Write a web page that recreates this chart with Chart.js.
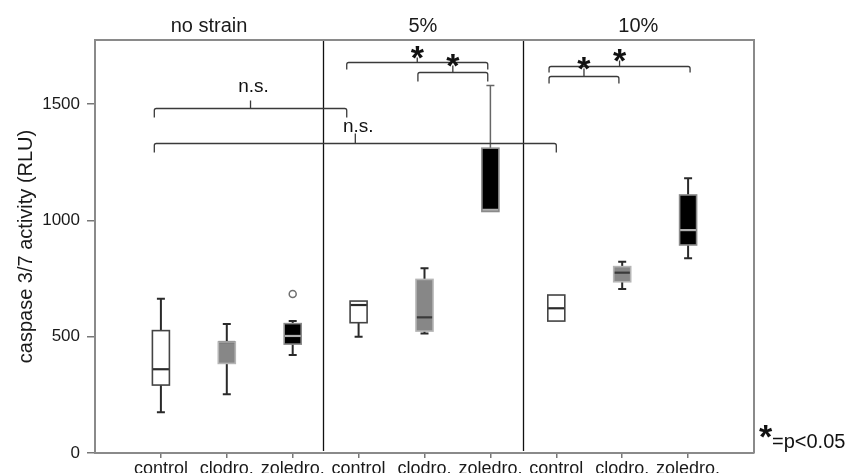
<!DOCTYPE html>
<html><head><meta charset="utf-8">
<script src="https://cdn.jsdelivr.net/npm/chart.js@4.4.0/dist/chart.umd.min.js"></script>
<style>html,body{margin:0;padding:0;background:#fff;}canvas{display:block;}</style>
</head><body>
<canvas id="c" width="846" height="473"></canvas>
<script>
// ---- data ----
const categories = ['control','clodro.','zoledro.','control','clodro.','zoledro.','control','clodro.','zoledro.'];
const groups = ['no strain','5%','10%'];
const whiskerLow  = [175, 252, 421,  500, 514, 1038,  567, 705,  837];
const q1          = [292, 385, 468,  560, 524, 1038,  567, 736,  894];
const medians     = [360, 477, 503,  636, 583, 1045,  622, 775,  958];
const q3          = [526, 477, 556,  653, 746, 1310,  679, 801, 1109];
const whiskerHigh = [663, 554, 567,  653, 794, 1579,  679, 822, 1181];
const outlierCat  = [2];
const outlierVal  = [683];
const yTicks = [0, 500, 1000, 1500];
const groupBounds = [-1, 2.46, 5.49, 9];
const brackets = [
  {from:-0.1, to:2.82, level:1483, drop:9, rise:8,  label:'n.s.', gap:9},
  {from:-0.1, to:6.0,  level:1332, drop:9, rise:10, label:'n.s.', gap:2},
  {from:2.82, to:4.96, level:1680, drop:7, rise:5,  label:'*'},
  {from:3.9,  to:4.96, level:1638, drop:9, rise:7,  label:'*'},
  {from:5.89, to:8.03, level:1663, drop:6, rise:6,  label:'*'},
  {from:5.89, to:6.95, level:1620, drop:7, rise:8,  label:'*'}
];

const FONT = "'Liberation Sans', Arial, sans-serif";
const fills   = ['#ffffff', '#878787', '#000000'];
const borders = ['#444444', '#b5b5b5', '#8a8a8a'];
const medCol  = ['#2a2a2a', '#3a3a3a', '#b0b0b0'];

const boxPlugin = {
  id: 'boxes',
  beforeDatasetsDraw(chart) {
    const {ctx, scales:{x, y}, chartArea:a} = chart;
    ctx.save();
    ctx.strokeStyle = '#111'; ctx.lineWidth = 1.3;
    for (let i = 1; i < groupBounds.length - 1; i++) {
      const px = Math.round(x.getPixelForValue(groupBounds[i])) + 0.5;
      ctx.beginPath(); ctx.moveTo(px, a.top); ctx.lineTo(px, a.bottom - 2); ctx.stroke();
    }
    const bw = 17, cw = 8;
    categories.forEach((c, i) => {
      const cx = x.getPixelForValue(i);
      const k = i % 3;
      const yl = y.getPixelForValue(whiskerLow[i]), yh = y.getPixelForValue(whiskerHigh[i]);
      const y1 = y.getPixelForValue(q1[i]), y3 = y.getPixelForValue(q3[i]);
      const ym = y.getPixelForValue(medians[i]);
      ctx.strokeStyle = (i === 5) ? '#666' : '#2a2a2a';
      ctx.lineWidth = (i === 5) ? 1.5 : 2;
      if (yh < y3 - 0.5) {
        ctx.beginPath(); ctx.moveTo(cx, y3); ctx.lineTo(cx, yh);
        ctx.moveTo(cx - cw/2, yh); ctx.lineTo(cx + cw/2, yh); ctx.stroke();
      }
      if (yl > y1 + 0.5) {
        ctx.beginPath(); ctx.moveTo(cx, y1); ctx.lineTo(cx, yl);
        ctx.moveTo(cx - cw/2, yl); ctx.lineTo(cx + cw/2, yl); ctx.stroke();
      }
      ctx.fillStyle = fills[k];
      ctx.fillRect(cx - bw/2, y3, bw, y1 - y3);
      ctx.strokeStyle = medCol[k]; ctx.lineWidth = 2.2;
      ctx.beginPath(); ctx.moveTo(cx - bw/2, ym); ctx.lineTo(cx + bw/2, ym); ctx.stroke();
      ctx.strokeStyle = borders[k]; ctx.lineWidth = 1.6;
      ctx.strokeRect(cx - bw/2, y3, bw, y1 - y3);
    });
    ctx.restore();
  },
  afterDraw(chart) {
    const {ctx, scales:{x, y}, chartArea:a} = chart;
    ctx.save();
    ctx.strokeStyle = '#8a8a8a'; ctx.lineWidth = 2;
    ctx.beginPath(); ctx.moveTo(a.left, a.top); ctx.lineTo(a.right, a.top); ctx.lineTo(a.right, a.bottom); ctx.stroke();
    ctx.fillStyle = '#1a1a1a'; ctx.textAlign = 'center'; ctx.textBaseline = 'alphabetic';
    ctx.font = `20px ${FONT}`;
    groups.forEach((g, i) => {
      const l = x.getPixelForValue(groupBounds[i]), r = x.getPixelForValue(groupBounds[i+1]);
      ctx.fillText(g, (l + r) / 2, 32);
    });
    ctx.strokeStyle = '#3a3a3a'; ctx.lineWidth = 1.3;
    brackets.forEach(b => {
      const x1 = x.getPixelForValue(b.from), x2 = x.getPixelForValue(b.to);
      const py = Math.round(y.getPixelForValue(b.level)) + 0.5;
      const xm = (x1 + x2) / 2;
      ctx.beginPath();
      ctx.moveTo(x1, py + b.drop);
      ctx.lineTo(x1, py + 2); ctx.quadraticCurveTo(x1, py, x1 + 2, py);
      ctx.lineTo(x2 - 2, py); ctx.quadraticCurveTo(x2, py, x2, py + 2);
      ctx.lineTo(x2, py + b.drop);
      ctx.moveTo(xm, py); ctx.lineTo(xm, py - b.rise);
      ctx.stroke();
      const top = py - b.rise;
      ctx.fillStyle = '#111';
      if (b.label === '*') {
        ctx.font = `bold 34px ${FONT}`;
        ctx.fillText('*', xm, top - 8 + 19);
      } else {
        ctx.font = `19px ${FONT}`;
        ctx.fillText(b.label, xm + 3, top - b.gap);
      }
    });
    ctx.textAlign = 'left';
    ctx.font = `bold 34px ${FONT}`;
    ctx.fillText('*', 759, 448);
    ctx.font = `20px ${FONT}`;
    ctx.fillText('=p<0.05', 772, 448);
    ctx.restore();
  }
};

new Chart(document.getElementById('c'), {
  type: 'scatter',
  data: {
    datasets: [{
      data: outlierCat.map((c, i) => ({x: c, y: outlierVal[i]})),
      pointRadius: 3.5, pointBackgroundColor: '#fff', pointBorderColor: '#707070', pointBorderWidth: 1.5
    }]
  },
  options: {
    responsive: false, animation: false,
    layout: {padding: {left: 0, right: 92, top: 40, bottom: 0}},
    plugins: {legend: {display: false}, tooltip: {enabled: false}},
    scales: {
      x: {
        type: 'linear', min: -1, max: 9,
        afterBuildTicks: s => { s.ticks = categories.map((_, i) => ({value: i})); },
        afterFit: s => { s.height = 20; },
        ticks: {callback: v => categories[v] ?? '', font: {family: FONT, size: 18}, color: '#1a1a1a', padding: 0, autoSkip: false, maxRotation: 0},
        grid: {drawOnChartArea: false, drawTicks: true, tickLength: 5, color: '#777', lineWidth: 1.5},
        border: {display: true, color: '#8a8a8a', width: 2}
      },
      y: {
        min: 0, max: 1775,
        afterBuildTicks: s => { s.ticks = yTicks.map(v => ({value: v})); },
        afterFit: s => { s.width = 95; },
        ticks: {callback: v => String(v), font: {family: FONT, size: 17}, color: '#1a1a1a', padding: 7},
        grid: {drawOnChartArea: false, drawTicks: true, tickLength: 8, color: '#777', lineWidth: 1.5},
        border: {display: true, color: '#8a8a8a', width: 2},
        title: {display: true, text: 'caspase 3/7 activity (RLU)', font: {family: FONT, size: 20}, color: '#1a1a1a', padding: {top: 14, bottom: 0}}
      }
    }
  },
  plugins: [boxPlugin]
});
</script>
</body></html>
